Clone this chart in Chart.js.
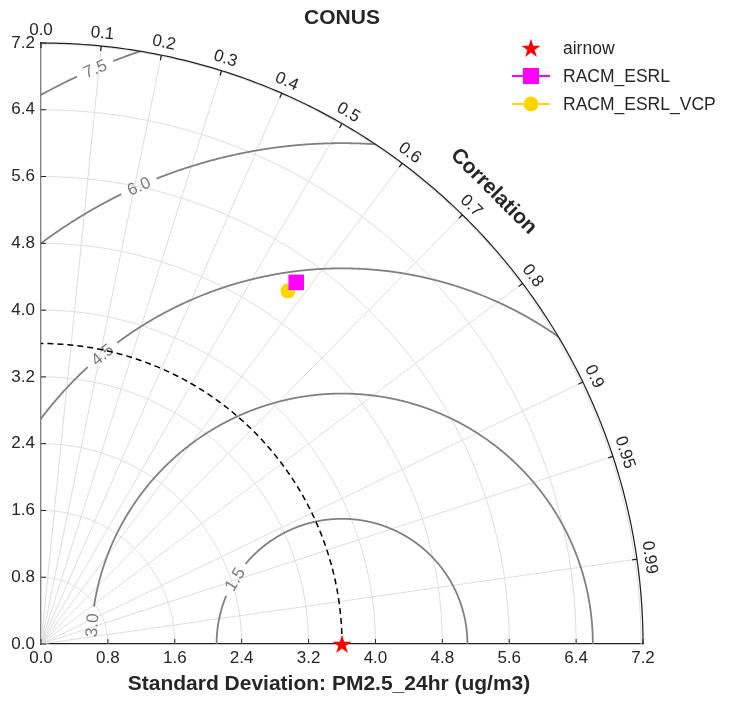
<!DOCTYPE html>
<html>
<head>
<meta charset="utf-8">
<script src="https://cdn.jsdelivr.net/npm/chart.js@4.4.1/dist/chart.umd.min.js"></script>
<style>
  html, body { margin: 0; padding: 0; background: #fff; }
</style>
</head>
<body>
<canvas id="taylor" width="734" height="704"></canvas>
<script>
// 数据
const modelNames = ['airnow', 'RACM_ESRL', 'RACM_ESRL_VCP'];
const stdDevs = [3.6, 5.30, 5.16];
const corrs = [1.0, 0.576, 0.5725];
const stdTicks = [0.0, 0.8, 1.6, 2.4, 3.2, 4.0, 4.8, 5.6, 6.4, 7.2];
const corrTicks = [0.0, 0.1, 0.2, 0.3, 0.4, 0.5, 0.6, 0.7, 0.8, 0.9, 0.95, 0.99];
const corrLabels = ['0.0', '0.1', '0.2', '0.3', '0.4', '0.5', '0.6', '0.7', '0.8', '0.9', '0.95', '0.99'];
const rmsLevels = [1.5, 3.0, 4.5, 6.0, 7.5];
const rmsLabels = ['1.5', '3.0', '4.5', '6.0', '7.5'];
const refStd = stdDevs[0];
const maxStd = 7.2;

const FONT = '"Liberation Sans", Arial, sans-serif';
const TXT = '#262626';
const colors = ['#ff0000', '#ff00ff', '#ffd700'];
// 等值线标签放置角度 (度, 以参考点为圆心)
const rmsLabelAngles = [148.8, 175.7, 129.6, 113.9, 113.2];

// 五角星标记
function makeStar(size, color) {
  const c = document.createElement('canvas');
  c.width = c.height = size;
  const g = c.getContext('2d');
  const R = size / 2, r = R * 0.382;
  g.beginPath();
  for (let i = 0; i < 10; i++) {
    const a = -Math.PI / 2 + i * Math.PI / 5;
    const rr = i % 2 ? r : R;
    g.lineTo(R + rr * Math.cos(a), R + rr * Math.sin(a) + 0.8);
  }
  g.closePath();
  g.fillStyle = color;
  g.fill();
  return c;
}
const starImg = makeStar(20, colors[0]);

const pointStyles = [starImg, 'rect', 'circle'];
const pointRadii = [10, 11, 7.5];

const datasets = modelNames.map((name, i) => {
  const th = Math.acos(corrs[i]);
  return {
    label: name,
    data: [{ x: stdDevs[i] * Math.cos(th), y: stdDevs[i] * Math.sin(th) }],
    pointStyle: pointStyles[i],
    pointRadius: pointRadii[i],
    backgroundColor: colors[i],
    borderColor: colors[i],
    borderWidth: 0,
    showLine: false,
    clip: false
  };
});

// 极坐标网格、等值线、标签等
const taylorPlugin = {
  id: 'taylor',
  beforeDatasetsDraw(chart) {
    const { ctx } = chart;
    const xs = chart.scales.x, ys = chart.scales.y;
    const px = (x, y) => [xs.getPixelForValue(x), ys.getPixelForValue(y)];
    const pol = (r, th) => px(r * Math.cos(th), r * Math.sin(th));
    const o = px(0, 0);
    const arcPath = (r, n = 120) => {
      ctx.beginPath();
      for (let i = 0; i <= n; i++) {
        const p = pol(r, (Math.PI / 2) * i / n);
        i ? ctx.lineTo(p[0], p[1]) : ctx.moveTo(p[0], p[1]);
      }
    };

    ctx.save();
    // 浅灰网格
    ctx.strokeStyle = '#dcdcdc';
    ctx.lineWidth = 1;
    stdTicks.forEach(s => {
      if (s <= 0 || s >= maxStd) return;
      arcPath(s);
      ctx.stroke();
    });
    // 外圈内侧的浅灰线
    const rpx = (xs.getPixelForValue(maxStd) - o[0]);
    ctx.beginPath();
    for (let i = 0; i <= 120; i++) {
      const a = (Math.PI / 2) * i / 120;
      const x = o[0] + (rpx - 2) * Math.cos(a), y = o[1] - (rpx - 2) * Math.sin(a);
      i ? ctx.lineTo(x, y) : ctx.moveTo(x, y);
    }
    ctx.stroke();
    corrTicks.forEach(c => {
      const p = pol(maxStd, Math.acos(c));
      ctx.beginPath();
      ctx.moveTo(o[0], o[1]);
      ctx.lineTo(p[0], p[1]);
      ctx.stroke();
    });

    // RMS 等值线 (裁剪到四分之一圆内)
    ctx.save();
    arcPath(maxStd);
    ctx.lineTo(o[0], o[1]);
    ctx.closePath();
    ctx.clip();
    ctx.font = '17px ' + FONT;
    ctx.strokeStyle = '#808080';
    ctx.lineWidth = 1.8;
    const upx = xs.getPixelForValue(1) - o[0];
    rmsLevels.forEach((lv, k) => {
      const la = rmsLabelAngles[k] * Math.PI / 180;
      const w = ctx.measureText(rmsLabels[k]).width;
      const gap = (w / 2 + 7) / (lv * upx);
      ctx.beginPath();
      let pen = false;
      for (let d = 0; d <= 1800; d++) {
        const a = Math.PI * d / 1800;
        if (Math.abs(a - la) < gap) { pen = false; continue; }
        const p = px(refStd + lv * Math.cos(a), lv * Math.sin(a));
        pen ? ctx.lineTo(p[0], p[1]) : ctx.moveTo(p[0], p[1]);
        pen = true;
      }
      ctx.stroke();
    });
    ctx.restore();

    // 等值线标签
    ctx.fillStyle = '#7a7a7a';
    ctx.font = '17px ' + FONT;
    ctx.textAlign = 'center';
    ctx.textBaseline = 'middle';
    rmsLevels.forEach((lv, k) => {
      const la = rmsLabelAngles[k] * Math.PI / 180;
      const p = px(refStd + lv * Math.cos(la), lv * Math.sin(la));
      ctx.save();
      ctx.translate(p[0], p[1]);
      ctx.rotate(-(la - Math.PI / 2));
      ctx.fillText(rmsLabels[k], 0, 1);
      ctx.restore();
    });

    // 参考标准差虚线
    ctx.strokeStyle = '#000';
    ctx.lineWidth = 1.5;
    ctx.setLineDash([6, 4]);
    arcPath(refStd);
    ctx.stroke();
    ctx.setLineDash([]);

    // 外圈
    ctx.strokeStyle = '#222';
    ctx.lineWidth = 1.25;
    arcPath(maxStd, 200);
    ctx.stroke();

    // 相关系数刻度与标签
    ctx.fillStyle = TXT;
    ctx.font = '17px ' + FONT;
    ctx.textAlign = 'center';
    ctx.textBaseline = 'bottom';
    corrTicks.forEach((c, k) => {
      const th = Math.acos(c);
      const p = pol(maxStd, th);
      const ux = Math.cos(th), uy = -Math.sin(th);
      ctx.beginPath();
      ctx.moveTo(p[0], p[1]);
      ctx.lineTo(p[0] - ux * 5, p[1] - uy * 5);
      ctx.stroke();
      ctx.save();
      ctx.translate(p[0] + ux * 4, p[1] + uy * 4);
      ctx.rotate(Math.PI / 2 - th);
      ctx.fillText(corrLabels[k], 0, 0);
      ctx.restore();
    });
    ctx.font = 'bold 21px ' + FONT;
    ctx.textBaseline = 'middle';
    const lp = [o[0] + (rpx + 38) * Math.cos(Math.PI / 4), o[1] - (rpx + 38) * Math.sin(Math.PI / 4)];
    ctx.save();
    ctx.translate(lp[0], lp[1]);
    ctx.rotate(Math.PI / 4);
    ctx.fillText('Correlation', 0, 0);
    ctx.restore();

    // 坐标轴内向刻度
    ctx.strokeStyle = '#222';
    ctx.lineWidth = 1;
    const a = chart.chartArea;
    stdTicks.forEach(s => {
      const x = xs.getPixelForValue(s), y = ys.getPixelForValue(s);
      ctx.beginPath();
      ctx.moveTo(x, a.bottom);
      ctx.lineTo(x, a.bottom - 5);
      ctx.moveTo(a.left, y);
      ctx.lineTo(a.left + 5, y);
      ctx.stroke();
    });

    // 标题与 x 轴标题
    ctx.fillStyle = TXT;
    ctx.font = 'bold 21px ' + FONT;
    ctx.textAlign = 'center';
    ctx.textBaseline = 'middle';
    ctx.fillText('CONUS', (a.left + a.right) / 2, 18);
    ctx.fillText('Standard Deviation: PM2.5_24hr (ug/m3)', 329, 684);
    ctx.restore();
  },
  afterDraw(chart) {
    // 图例
    const { ctx } = chart;
    ctx.save();
    const mx = 531, tx = 563, y0 = 48, dy = 28;
    chart.data.datasets.forEach((ds, i) => {
      const y = y0 + i * dy;
      if (i > 0) {
        ctx.strokeStyle = ds.backgroundColor;
        ctx.lineWidth = 2;
        ctx.beginPath();
        ctx.moveTo(mx - 19, y);
        ctx.lineTo(mx + 19, y);
        ctx.stroke();
      }
      ctx.fillStyle = ds.backgroundColor;
      if (i === 0) {
        ctx.drawImage(starImg, mx - 10, y - 10);
      } else if (i === 1) {
        ctx.fillRect(mx - 8, y - 8, 16, 16);
      } else {
        ctx.beginPath();
        ctx.arc(mx, y, 7.5, 0, Math.PI * 2);
        ctx.fill();
      }
      ctx.fillStyle = TXT;
      ctx.font = '17.5px ' + FONT;
      ctx.textAlign = 'left';
      ctx.textBaseline = 'middle';
      ctx.fillText(ds.label, tx, y + 1);
    });
    ctx.restore();
  }
};

const tickOpts = {
  callback: v => Number(v).toFixed(1),
  font: { family: FONT, size: 17 },
  color: TXT,
  maxRotation: 0,
  autoSkip: false
};

new Chart(document.getElementById('taylor'), {
  type: 'scatter',
  data: { datasets },
  options: {
    responsive: false,
    animation: false,
    devicePixelRatio: 1,
    layout: { padding: { top: 43, right: 91, left: 0, bottom: 0 } },
    plugins: {
      legend: { display: false },
      tooltip: { enabled: false },
      title: { display: false }
    },
    scales: {
      x: {
        type: 'linear',
        min: 0,
        max: maxStd,
        afterBuildTicks: s => { s.ticks = stdTicks.map(v => ({ value: v })); },
        afterFit: s => { s.height = 60; },
        ticks: Object.assign({ padding: 4 }, tickOpts),
        grid: { display: false, drawTicks: false },
        border: { display: true, color: '#222', width: 1.25 }
      },
      y: {
        type: 'linear',
        min: 0,
        max: maxStd,
        afterBuildTicks: s => { s.ticks = stdTicks.map(v => ({ value: v })); },
        afterFit: s => { s.width = 41; },
        ticks: Object.assign({ padding: 6 }, tickOpts),
        grid: { display: false, drawTicks: false },
        border: { display: true, color: '#222', width: 1.25 }
      }
    }
  },
  plugins: [taylorPlugin]
});
</script>
</body>
</html>
